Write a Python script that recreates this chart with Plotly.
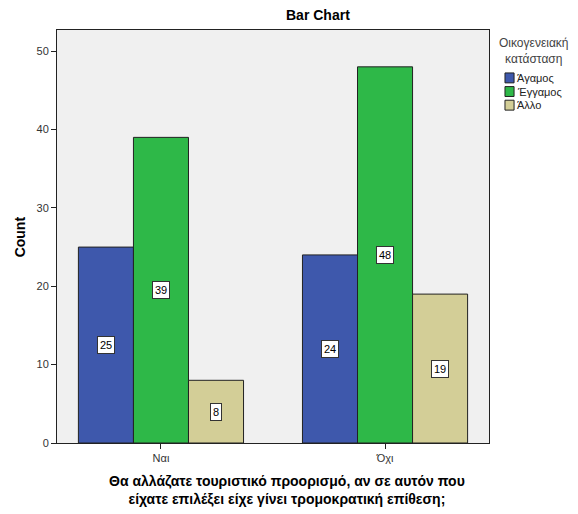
import plotly.graph_objects as go

categories = ["Ναι", "Όχι"]
series_names = ["Άγαμος", "Έγγαμος", "Άλλο"]
agamos = [25, 24]
eggamos = [39, 48]
allo = [8, 19]

colors = ["#3e58ac", "#2eb848", "#d3ce97"]
series_values = [agamos, eggamos, allo]

fig = go.Figure()
for name, vals, col in zip(series_names, series_values, colors):
    fig.add_trace(go.Bar(
        x=categories,
        y=vals,
        name=name,
        marker=dict(color=col, line=dict(color="#222222", width=1)),
        showlegend=False,
    ))

# value labels in boxes, centred on each bar
bar_w = (1 - 0.263) / 3
for j, vals in enumerate(series_values):
    for i, v in enumerate(vals):
        fig.add_annotation(
            x=i + (j - 1) * bar_w,
            y=v / 2,
            xref="x",
            yref="y",
            text=str(v),
            showarrow=False,
            font=dict(size=11, color="#000000"),
            bgcolor="#ffffff",
            bordercolor="#333333",
            borderwidth=1,
            borderpad=2,
        )

# titles placed as annotations (SPSS layout)
fig.add_annotation(
    x=0.604, y=1.036, xref="paper", yref="paper",
    text="<b>Bar Chart</b>", showarrow=False,
    xanchor="center", yanchor="middle",
    font=dict(size=14, color="#000000"),
)
fig.add_annotation(
    x=0.532, y=-0.115, xref="paper", yref="paper",
    text="<b>Θα αλλάζατε τουριστικό προορισμό, αν σε αυτόν που<br>είχατε επιλέξει είχε γίνει τρομοκρατική επίθεση;</b>",
    showarrow=False, xanchor="center", yanchor="middle",
    font=dict(size=14, color="#000000"),
)
fig.add_annotation(
    x=-0.086, y=0.5, xref="paper", yref="paper",
    text="<b>Count</b>", showarrow=False, textangle=-90,
    xanchor="center", yanchor="middle",
    font=dict(size=14, color="#000000"),
)

# hand-made legend (tight spacing)
fig.add_annotation(
    x=1.104, y=0.95, xref="paper", yref="paper",
    text="Οικογενειακή<br>κατάσταση",
    showarrow=False, xanchor="center", yanchor="middle",
    font=dict(size=12, color="#444444"),
)
for k, (name, col) in enumerate(zip(series_names, colors)):
    yc = 0.884 - k * 0.033
    fig.add_shape(
        type="rect", xref="paper", yref="paper",
        x0=1.037, x1=1.058, y0=yc - 0.012, y1=yc + 0.012,
        fillcolor=col, line=dict(color="#222222", width=1),
    )
    fig.add_annotation(
        x=1.06, y=yc, xref="paper", yref="paper",
        text=name, showarrow=False, xanchor="left", yanchor="middle",
        font=dict(size=11, color="#222222"),
    )

fig.update_layout(
    width=570,
    height=506,
    barmode="group",
    bargap=0.263,
    bargroupgap=0,
    showlegend=False,
    plot_bgcolor="#f0f0f0",
    paper_bgcolor="#ffffff",
    margin=dict(l=49, r=89, t=22, b=71),
    font=dict(family="Liberation Sans, Arial", size=11, color="#333333"),
    xaxis=dict(
        type="category",
        range=[-0.464, 1.464],
        automargin=False,
        showline=True,
        linecolor="#222222",
        mirror=True,
        ticks="outside",
        ticklen=5,
        tickcolor="#222222",
        tickfont=dict(size=11),
        showgrid=False,
    ),
    yaxis=dict(
        range=[0, 52.7],
        tickvals=[0, 10, 20, 30, 40, 50],
        automargin=False,
        showline=True,
        linecolor="#222222",
        mirror=True,
        ticks="outside",
        ticklen=5,
        tickcolor="#222222",
        showgrid=False,
        zeroline=False,
        tickfont=dict(size=11),
    ),
)

fig.write_html("out.html")
